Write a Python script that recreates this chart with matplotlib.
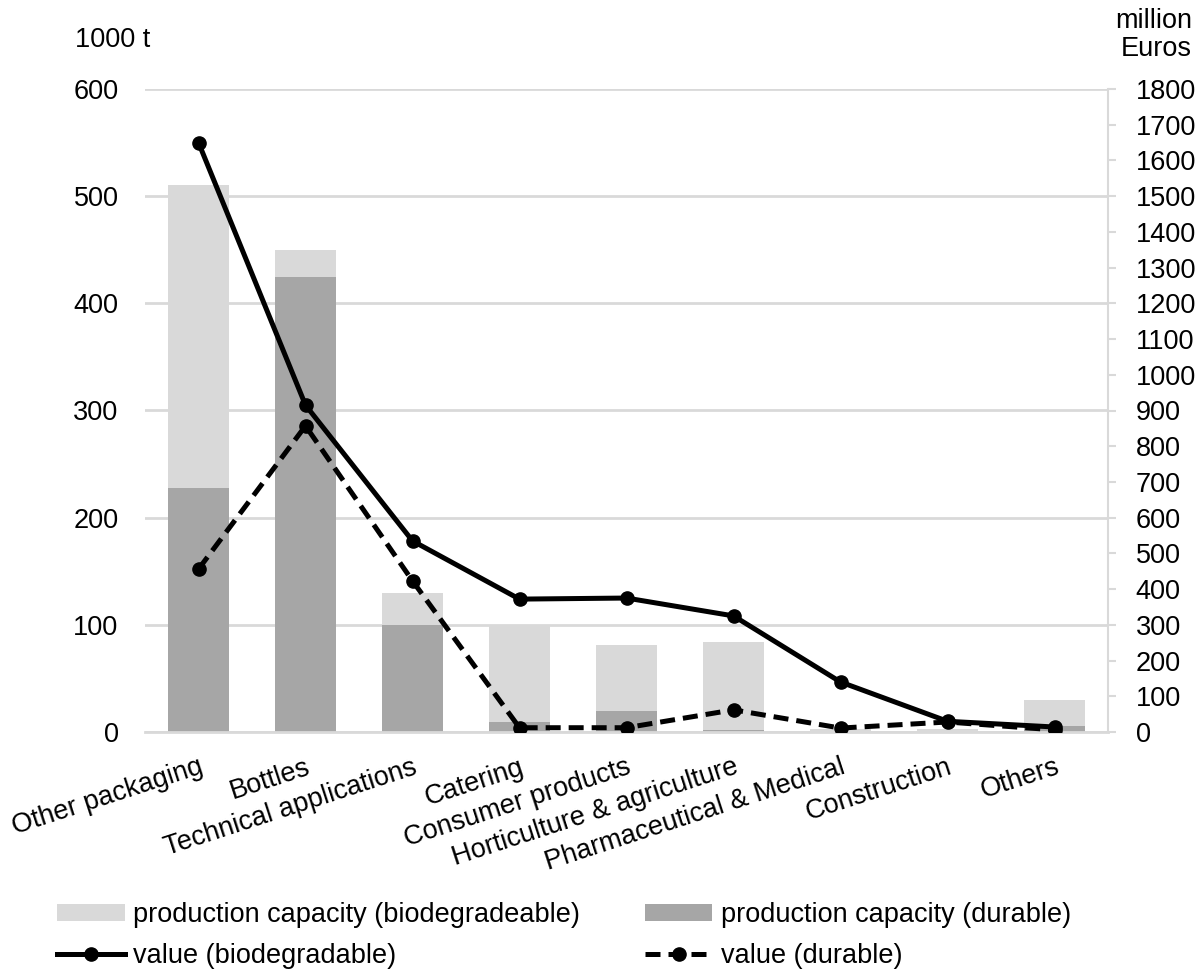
import numpy as np
import matplotlib
matplotlib.use("Agg")
import matplotlib.pyplot as plt

plt.rcParams['font.family'] = ['Liberation Sans', 'DejaVu Sans']

categories = ["Other packaging", "Bottles", "Technical applications", "Catering",
              "Consumer products", "Horticulture & agriculture",
              "Pharmaceutical & Medical", "Construction", "Others"]
cap_durable = [228, 425, 100, 9, 20, 2, 0, 0, 6]
cap_total = [510, 450, 130, 100, 81, 84, 3, 3, 30]
val_bio = [1650, 915, 535, 372, 375, 325, 140, 30, 14]
val_dur = [456, 857, 423, 12, 12, 62, 11, 28, 6]

cap_bio = [t - d for t, d in zip(cap_total, cap_durable)]

light = "#d9d9d9"
dark = "#a6a6a6"
grid = "#d9d9d9"
FS = 19.5

fig = plt.figure(figsize=(11.97, 9.73), dpi=100)
ax = fig.add_axes([145 / 1197, 1 - 732 / 973, (1108 - 145) / 1197, (732 - 89) / 973])
x = np.arange(len(categories))

b2 = ax.bar(x, cap_durable, 0.57, color=dark, zorder=2)
b1 = ax.bar(x, cap_bio, 0.57, bottom=cap_durable, color=light, zorder=2)
ax.set_ylim(0, 600)
ax.set_xlim(-0.5, len(categories) - 0.5)
ax.set_yticks(range(0, 601, 100))
ax.yaxis.grid(True, color=grid, linewidth=2, zorder=0)
ax.set_axisbelow(True)
for s in ["top", "right", "left"]:
    ax.spines[s].set_visible(False)
ax.spines["bottom"].set_color(grid)
ax.spines["bottom"].set_linewidth(2)
ax.tick_params(axis="y", length=0, labelsize=FS, pad=19)
ax.tick_params(axis="x", length=0, labelsize=FS, pad=16)
ax.set_xticks(x)
ax.set_xticklabels(categories, rotation=18, ha="right", rotation_mode="anchor")

ax2 = ax.twinx()
ax2.set_ylim(0, 1800)
ax2.set_yticks(range(0, 1801, 100))
for s in ["top", "left", "bottom"]:
    ax2.spines[s].set_visible(False)
ax2.spines["right"].set_color(grid)
ax2.spines["right"].set_linewidth(1.5)
ax2.tick_params(axis="y", labelsize=FS, color=grid, length=6, width=1.5, pad=14)
l1, = ax2.plot(x, val_bio, "-o", color="black", lw=3.6, ms=9.5)
l2, = ax2.plot(x, val_dur, "--o", color="black", lw=3.6, ms=9.5, dashes=(3, 1.6))

fig.text(75 / 1197, 1 - 40 / 973, "1000 t", fontsize=FS, va="center", ha="left")
fig.text(1192 / 1197, 1 - 35 / 973, "million\nEuros", fontsize=FS, va="center", ha="right",
         linespacing=1.15)

fig.legend([b1, l1, b2, l2],
           ["production capacity (biodegradeable)", "value (biodegradable)",
            "production capacity (durable)", "value (durable)"],
           loc="upper left", bbox_to_anchor=(57 / 1197, 1 - 902 / 973), ncol=2,
           frameon=False, fontsize=FS, handlelength=2.5, handletextpad=0.3,
           columnspacing=2.4, labelspacing=0.55, handleheight=0.55,
           borderpad=0, borderaxespad=0)

fig.savefig("out.png", dpi=100)
